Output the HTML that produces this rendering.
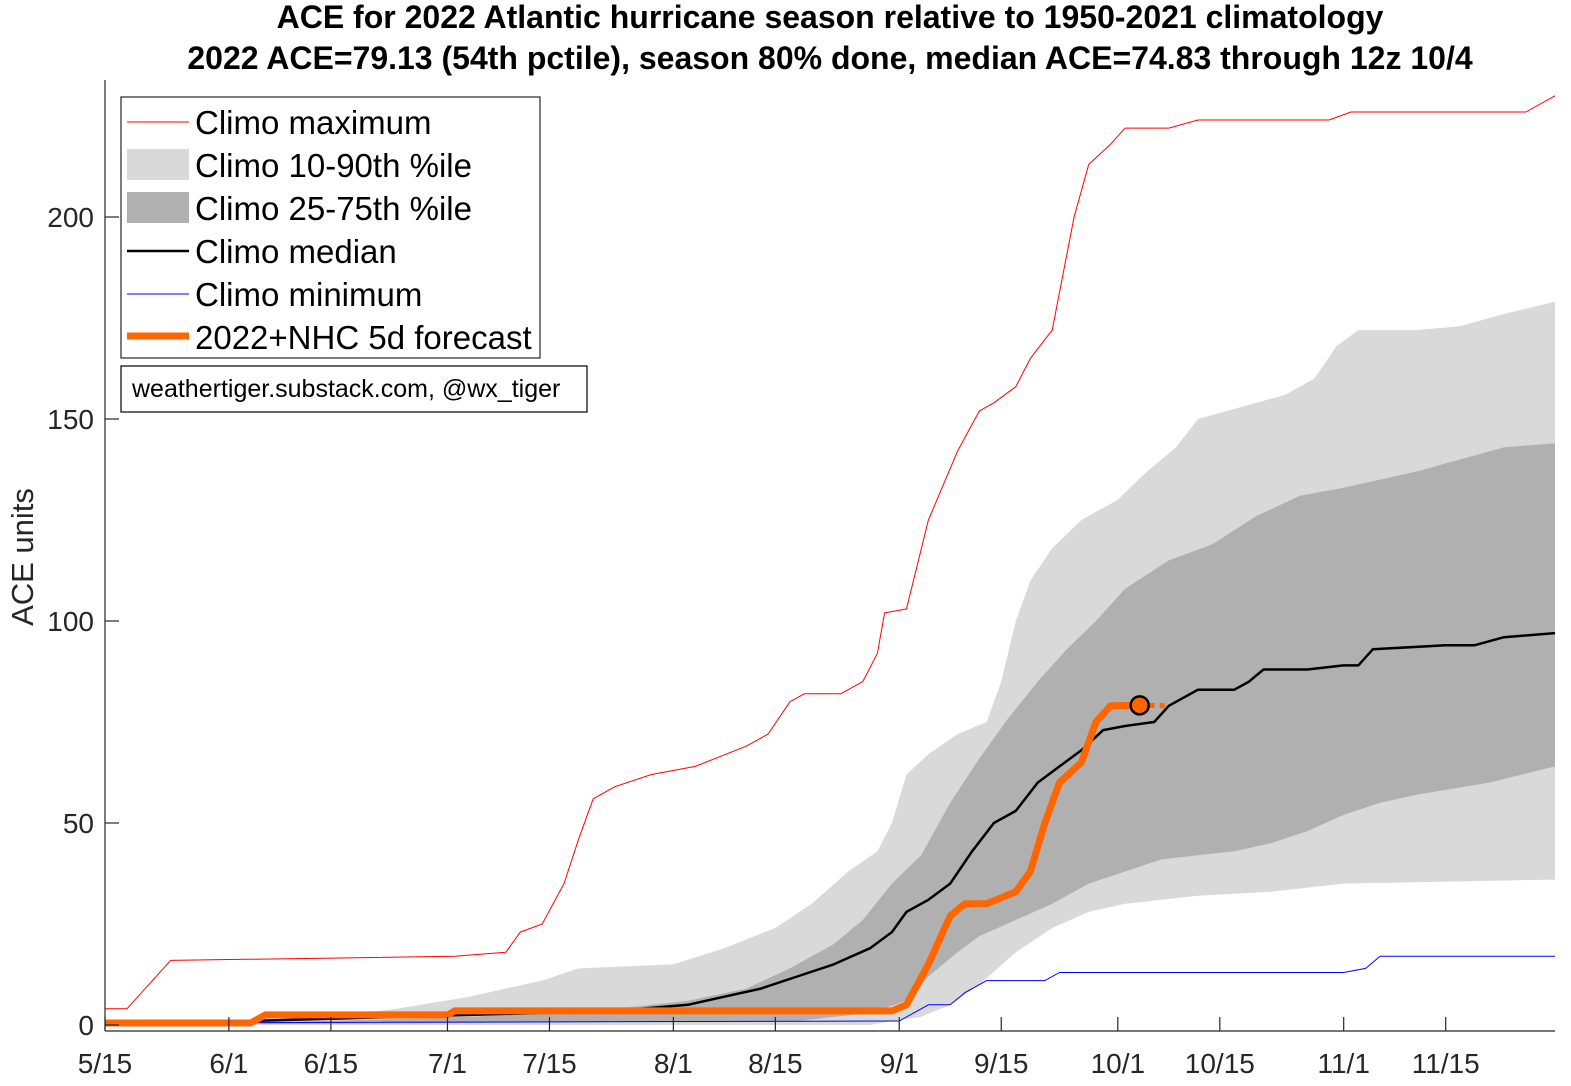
<!DOCTYPE html>
<html><head><meta charset="utf-8"><style>
body{margin:0;background:#fff;}
svg text{font-family:"Liberation Sans",Arial,sans-serif;}
</style></head><body>
<svg id="chart" width="1571" height="1081" xmlns="http://www.w3.org/2000/svg">
<text x="830" y="28" text-anchor="middle" font-size="32" font-weight="bold" fill="#000">ACE for 2022 Atlantic hurricane season relative to 1950-2021 climatology</text>
<text x="830" y="69" text-anchor="middle" font-size="32" font-weight="bold" fill="#000">2022 ACE=79.13 (54th pctile), season 80% done, median ACE=74.83 through 12z 10/4</text>
<text transform="translate(33,557) rotate(-90)" text-anchor="middle" font-size="31" fill="#262626">ACE units</text>
<g id="plot"></g>
<g id="axes"></g>
<g>
<rect x="121" y="97" width="419" height="261" fill="#fff" stroke="#262626" stroke-width="1.2"/>
<line x1="127" y1="122" x2="189" y2="122" stroke="#ff0000" stroke-width="1"/>
<text x="195" y="134" font-size="33" fill="#000">Climo maximum</text>
<rect x="127" y="149" width="62" height="31" fill="#d9d9d9"/>
<text x="195" y="177" font-size="33" fill="#000">Climo 10-90th %ile</text>
<rect x="127" y="192" width="62" height="31" fill="#b0b0b0"/>
<text x="195" y="220" font-size="33" fill="#000">Climo 25-75th %ile</text>
<line x1="127" y1="251" x2="189" y2="251" stroke="#000" stroke-width="2.5"/>
<text x="195" y="263" font-size="33" fill="#000">Climo median</text>
<line x1="127" y1="294" x2="189" y2="294" stroke="#0000ff" stroke-width="1"/>
<text x="195" y="306" font-size="33" fill="#000">Climo minimum</text>
<line x1="127" y1="336" x2="189" y2="336" stroke="#ff6600" stroke-width="7"/>
<text x="195" y="349" font-size="33" fill="#000">2022+NHC 5d forecast</text>
</g>
<g>
<rect x="121" y="366" width="466" height="46" fill="#fff" stroke="#000" stroke-width="1.2"/>
<text x="132" y="397" font-size="25" fill="#000">weathertiger.substack.com, @wx_tiger</text>
</g>
</svg>
<script>
const maxDays=[0,3,9,48,55,57,60,63,65,67,70,75,78,81,88,91,94,96,101,104,106,107,110,113,117,120,122,125,127,130,133,135,138,140,146,150,168,171,195,199];
const maxVals=[4,4,16,17,18,23,25,35,46,56,59,62,63,64,69,72,80,82,82,85,92,102,103,125,142,152,154,158,165,172,200,213,218,222,222,224,224,226,226,230];
const minDays=[0,109,110,113,116,118,121,129,131,170,173,175,199];
const minVals=[0.5,1,2,5,5,8,11,11,13,13,14,17,17];
const p90Days=[0,15,30,40,50,60,65,78,85,92,97,102,106,108,110,113,117,121,123,125,127,130,134,139,143,147,150,156,162,166,169,172,180,186,192,199];
const p90Vals=[0.5,1,2,4,7,11,14,15,19,24,30,38,43,50,62,67,72,75,85,100,110,118,125,130,137,143,150,153,156,160,168,172,172,173,176,179];
const p75Days=[0,30,50,60,70,80,88,94,100,104,108,112,116,120,124,128,132,136,140,146,152,158,164,170,180,186,192,199];
const p75Vals=[0,1,2,3,4,6,9,14,20,26,35,42,55,66,76,85,93,100,108,115,119,126,131,133,137,140,143,144];
const p25Days=[0,95,100,105,110,113,117,120,125,130,135,140,145,150,155,160,165,170,175,180,190,199];
const p25Vals=[0,1,2,3,6,12,18,22,26,30,35,38,41,42,43,45,48,52,55,57,60,64];
const p10Days=[0,105,108,112,116,120,125,130,135,140,145,150,160,170,199];
const p10Vals=[0,0,1,2,5,10,18,24,28,30,31,32,33,35,36];
const medDays=[0,20,40,60,70,80,85,90,95,100,105,108,110,113,116,119,122,125,128,131,134,137,140,144,146,150,155,157,159,165,170,172,174,184,188,192,199];
const medVals=[0.5,1,2,3,3.5,5,7,9,12,15,19,23,28,31,35,43,50,53,60,64,68,73,74,75,79,83,83,85,88,88,89,89,93,94,94,96,97];
const obsDays=[0,20,22,47,48,108,110,113,116,118,121,125,127,129,131,134,136,138,142];
const obsVals=[0.5,0.5,2.5,2.5,3.5,3.5,5,15,27,30,30,33,38,50,60,65,75,79,79.13];
const fcstDays=[142,146];
const fcstVals=[79.13,79];
const xTickDays=[0,17,31,47,61,78,92,109,123,139,153,170,184];
const xTickLabels=["5/15","6/1","6/15","7/1","7/15","8/1","8/15","9/1","9/15","10/1","10/15","11/1","11/15"];
const yTicks=[0,50,100,150,200];

const X0=105,X1=1555,DMAX=199,Y0=1025,PPU=4.04,YB=1031,YT=80;
const xs=d=>X0+(X1-X0)*d/DMAX;
const ys=v=>Y0-v*PPU;
const NS="http://www.w3.org/2000/svg";
const plot=document.getElementById('plot'),axes=document.getElementById('axes');
function mk(tag,attrs,parent){const e=document.createElementNS(NS,tag);for(const k in attrs)e.setAttribute(k,attrs[k]);parent.appendChild(e);return e;}
function stepPts(days,vals){return days.map((d,i)=>xs(d).toFixed(1)+','+ys(vals[i]).toFixed(1));}
function band(dU,vU,dL,vL,fill,name){
  const pts=stepPts(dU,vU).concat(stepPts(dL,vL).reverse());
  const p=mk('polygon',{points:pts.join(' '),fill:fill},plot);
  
  
}
function line(d,v,stroke,w,name,dash){
  const a={points:stepPts(d,v).join(' '),fill:'none',stroke:stroke,'stroke-width':w,'stroke-linejoin':'round'};
  if(dash)a['stroke-dasharray']=dash;
  const p=mk('polyline',a,plot);
  
  
}
band(p90Days,p90Vals,p10Days,p10Vals,'#d9d9d9','band-10-90');
band(p75Days,p75Vals,p25Days,p25Vals,'#b0b0b0','band-25-75');
line(maxDays,maxVals,'#ff0000',1,'climo-max-line');
line(minDays,minVals,'#0000ff',1,'climo-min-line');
line(medDays,medVals,'#000',2.5,'climo-median-line');
line(obsDays,obsVals,'#ff6600',7,'ace-2022-line');
line(fcstDays,fcstVals,'#ff6600',5,'forecast-line','5,5');
const dot=mk('circle',{cx:xs(obsDays[obsDays.length-1]),cy:ys(obsVals[obsVals.length-1]),r:9,fill:'#ff6600',stroke:'#000','stroke-width':2.5},plot);


const yax=mk('line',{x1:X0,y1:YT,x2:X0,y2:YB,stroke:'#262626','stroke-width':1.2},axes);


const xax=mk('line',{x1:X0,y1:YB,x2:X1,y2:YB,stroke:'#262626','stroke-width':1.2},axes);


xTickDays.forEach((d,i)=>{
  mk('line',{x1:xs(d),y1:YB,x2:xs(d),y2:YB-14,stroke:'#262626','stroke-width':1.2},axes);
  const t=mk('text',{x:xs(d),y:1073,'text-anchor':'middle','font-size':'28',fill:'#262626'},axes);
  t.textContent=xTickLabels[i];
  
  
});
yTicks.forEach(v=>{
  mk('line',{x1:X0,y1:ys(v),x2:X0+14,y2:ys(v),stroke:'#262626','stroke-width':1.2},axes);
  const t=mk('text',{x:X0-11,y:ys(v)+10,'text-anchor':'end','font-size':'28',fill:'#262626'},axes);
  t.textContent=v;
  
  
});
</script>
</body></html>
